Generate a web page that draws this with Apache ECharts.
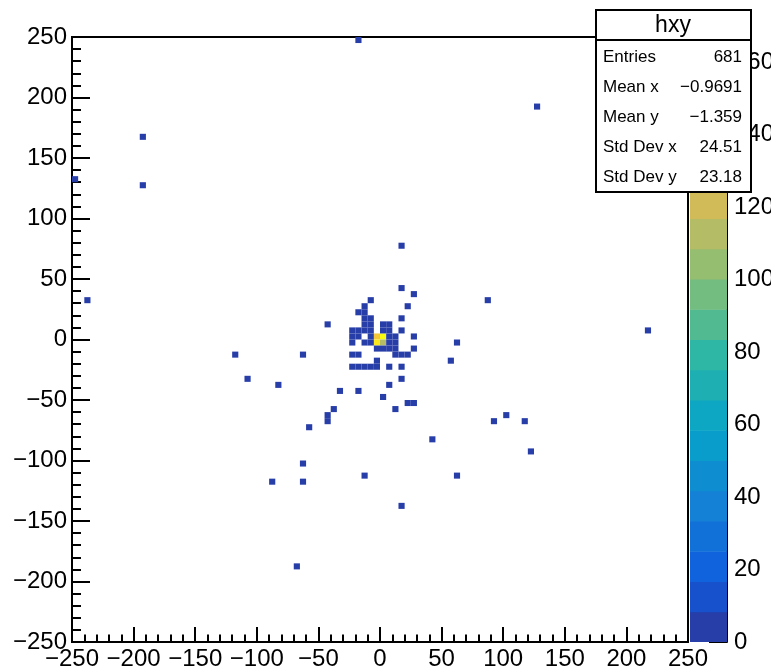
<!DOCTYPE html>
<html>
<head>
<meta charset="utf-8">
<script src="https://cdn.jsdelivr.net/npm/echarts@6/dist/echarts.min.js"></script>
<style>
  html, body { margin: 0; padding: 0; background: #fff; }
  #main { width: 771px; height: 672px; }
</style>
</head>
<body>
<div id="main"></div>
<script>
// histogram hxy: 100 x 100 bins over [-250, 250], bin width 5
const binW = 5;
const axisMin = -250, axisMax = 250, axisStep = 50;
const zStep = 20;
const nLevels = 20;

// [x centre, y centre, content]
const coreBins = [
  [-2.5, 2.5, 140], [2.5, 2.5, 167], [-2.5, -2.5, 158], [2.5, -2.5, 112]
];
const clusterBins = [
  [27.5, 37.5, 1], [-7.5, 32.5, 1], [-12.5, 27.5, 1], [22.5, 27.5, 1],
  [-17.5, 22.5, 1], [-12.5, 22.5, 2], [-12.5, 17.5, 2], [-7.5, 17.5, 1], [17.5, 17.5, 1],
  [-12.5, 12.5, 2], [-7.5, 12.5, 2], [2.5, 12.5, 1], [7.5, 12.5, 1],
  [-22.5, 7.5, 1], [-17.5, 7.5, 2], [-12.5, 7.5, 2], [-7.5, 7.5, 3], [2.5, 7.5, 1], [7.5, 7.5, 1], [17.5, 7.5, 1],
  [-22.5, 2.5, 1], [-17.5, 2.5, 2], [-7.5, 2.5, 3], [7.5, 2.5, 3], [12.5, 2.5, 1], [27.5, 2.5, 1],
  [-22.5, -2.5, 1], [-12.5, -2.5, 2], [-7.5, -2.5, 3], [7.5, -2.5, 3], [12.5, -2.5, 1],
  [-2.5, -7.5, 2], [2.5, -7.5, 2], [7.5, -7.5, 2], [12.5, -7.5, 1], [27.5, -7.5, 1],
  [-22.5, -12.5, 1], [-17.5, -12.5, 1], [12.5, -12.5, 1], [17.5, -12.5, 1], [22.5, -12.5, 1],
  [-2.5, -17.5, 1],
  [-22.5, -22.5, 1], [-17.5, -22.5, 1], [-12.5, -22.5, 1], [-7.5, -22.5, 1], [-2.5, -22.5, 1],
  [7.5, -22.5, 1], [17.5, -22.5, 1],
  [17.5, -32.5, 1], [7.5, -37.5, 1]
];
const haloBins = [
  [-17.5, 247.5, 1], [127.5, 192.5, 1], [-192.5, 167.5, 1], [-247.5, 132.5, 1], [-192.5, 127.5, 1],
  [17.5, 77.5, 1], [17.5, 42.5, 1], [-237.5, 32.5, 1], [87.5, 32.5, 1], [217.5, 7.5, 1],
  [-42.5, 12.5, 1], [62.5, -2.5, 1], [-117.5, -12.5, 1], [-62.5, -12.5, 1], [57.5, -17.5, 1],
  [-107.5, -32.5, 1], [-82.5, -37.5, 1], [-32.5, -42.5, 1], [-17.5, -42.5, 1], [2.5, -47.5, 1],
  [22.5, -52.5, 1], [27.5, -52.5, 1], [-37.5, -57.5, 1], [12.5, -57.5, 1],
  [-42.5, -62.5, 1], [102.5, -62.5, 1], [-42.5, -67.5, 1], [92.5, -67.5, 1], [117.5, -67.5, 1],
  [-57.5, -72.5, 1], [42.5, -82.5, 1], [122.5, -92.5, 1], [-62.5, -102.5, 1],
  [-12.5, -112.5, 1], [62.5, -112.5, 1], [-87.5, -117.5, 1], [-62.5, -117.5, 1],
  [17.5, -137.5, 1], [-67.5, -187.5, 1]
];

const statsTitle = 'hxy';
const statsLabels = ['Entries', 'Mean x', 'Mean y', 'Std Dev x', 'Std Dev y'];
const statsValues = ['681', '\u22120.9691', '\u22121.359', '24.51', '23.18'];

// ROOT kBird palette
const birdStops = [0, 0.125, 0.25, 0.375, 0.5, 0.625, 0.75, 0.875, 1];
const birdR = [0.2082, 0.0592, 0.0780, 0.0232, 0.1802, 0.5301, 0.8186, 0.9956, 0.9764];
const birdG = [0.1664, 0.3599, 0.5041, 0.6419, 0.7178, 0.7492, 0.7328, 0.7862, 0.9832];
const birdB = [0.5293, 0.8684, 0.8385, 0.7914, 0.6425, 0.4662, 0.3499, 0.1968, 0.0539];

function birdColor(t) {
  let i = 0;
  while (i < birdStops.length - 2 && t > birdStops[i + 1]) i++;
  const f = (t - birdStops[i]) / (birdStops[i + 1] - birdStops[i]);
  const c = arr => Math.round(255 * (arr[i] + f * (arr[i + 1] - arr[i])));
  return 'rgb(' + c(birdR) + ',' + c(birdG) + ',' + c(birdB) + ')';
}
function levelColor(lv) {
  const idx = Math.min(254, Math.floor((lv + 0.99) * 255 / nLevels));
  return birdColor(idx / 254);
}

const bins = coreBins.concat(clusterBins, haloBins);
const zMax = Math.max(...bins.map(b => b[2]));
const levels = [];
for (let i = 0; i < nLevels; i++) levels.push(i);

const minusFmt = v => String(v).replace('-', '\u2212');
const font = 'Liberation Sans';

const chart = echarts.init(document.getElementById('main'));

function frameAxis(pos, tickLen) {
  return {
    type: 'value', min: axisMin, max: axisMax, interval: axisStep, position: pos,
    axisLine: { show: true, onZero: false, lineStyle: { color: '#000', width: 2 } },
    axisTick: { show: true, inside: true, length: tickLen, lineStyle: { color: '#000', width: 2 } },
    minorTick: { show: true, splitNumber: 5, length: tickLen / 2, lineStyle: { color: '#000', width: 2 } },
    splitLine: { show: false },
    axisLabel: { color: '#000', fontSize: 24, fontFamily: font, margin: 5, formatter: minusFmt }
  };
}

const statsBox = [
  { type: 'rect', z: 100, shape: { x: 596, y: 10, width: 155, height: 182 },
    style: { fill: '#fff', stroke: '#000', lineWidth: 2 } },
  { type: 'line', z: 101, shape: { x1: 596, y1: 40, x2: 751, y2: 40 },
    style: { stroke: '#000', lineWidth: 2 } },
  { type: 'text', z: 101, style: { text: statsTitle, x: 673, y: 26, font: '23px "' + font + '"',
    fill: '#000', align: 'center', verticalAlign: 'middle', textAlign: 'center', textVerticalAlign: 'middle' } }
];
const rowY = [57, 87, 117, 147, 177];
statsLabels.forEach((lab, i) => {
  statsBox.push({ type: 'text', z: 101, style: { text: lab, x: 603, y: rowY[i], font: '17px "' + font + '"',
    fill: '#000', align: 'left', verticalAlign: 'middle', textAlign: 'left', textVerticalAlign: 'middle' } });
  statsBox.push({ type: 'text', z: 101, style: { text: statsValues[i], x: 742, y: rowY[i], font: '17px "' + font + '"',
    fill: '#000', align: 'right', verticalAlign: 'middle', textAlign: 'right', textVerticalAlign: 'middle' } });
});

chart.setOption({
  animation: false,
  backgroundColor: '#fff',
  grid: [
    { left: 72, top: 37, width: 616, height: 605, show: true, borderColor: '#000', borderWidth: 2,
      containLabel: false, outerBoundsMode: 'none' },
    { left: 690, top: 37, width: 37, height: 605, show: false, containLabel: false, outerBoundsMode: 'none' }
  ],
  xAxis: [
    frameAxis('bottom', 15),
    { type: 'value', gridIndex: 1, min: 0, max: 1, show: false }
  ],
  yAxis: [
    frameAxis('left', 18),
    {
      type: 'value', gridIndex: 1, min: 0, max: zMax, interval: zStep, position: 'right',
      axisLine: { show: true, onZero: false, lineStyle: { color: '#000', width: 2 } },
      axisTick: { show: true, inside: true, length: 18, lineStyle: { color: '#000', width: 2 } },
      splitLine: { show: false },
      axisLabel: { color: '#000', fontSize: 24, fontFamily: font, margin: 7, showMaxLabel: false }
    }
  ],
  graphic: { elements: statsBox },
  series: [
    {
      type: 'custom', xAxisIndex: 0, yAxisIndex: 0, clip: true,
      data: bins,
      renderItem: function (params, api) {
        const x = api.value(0), y = api.value(1), n = api.value(2);
        const p0 = api.coord([x - binW / 2, y + binW / 2]);
        const p1 = api.coord([x + binW / 2, y - binW / 2]);
        const lv = Math.min(nLevels - 1, Math.floor(n / zMax * nLevels + 0.01));
        return {
          type: 'rect',
          shape: { x: p0[0], y: p0[1], width: p1[0] - p0[0], height: p1[1] - p0[1] },
          style: { fill: levelColor(lv) }
        };
      }
    },
    {
      type: 'custom', xAxisIndex: 1, yAxisIndex: 1, clip: true, z: 1,
      data: levels,
      renderItem: function (params, api) {
        const lv = api.value(0);
        const p0 = api.coord([0, (lv + 1) * zMax / nLevels]);
        const p1 = api.coord([1, lv * zMax / nLevels]);
        return {
          type: 'rect',
          shape: { x: p0[0], y: p0[1], width: p1[0] - p0[0], height: p1[1] - p0[1] + 0.5 },
          style: { fill: levelColor(lv) }
        };
      }
    }
  ]
});
</script>
</body>
</html>
